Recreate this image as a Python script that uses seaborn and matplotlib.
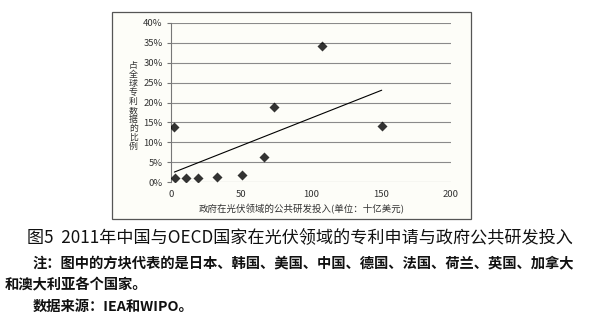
import matplotlib
matplotlib.use("Agg")
import matplotlib.pyplot as plt
import seaborn as sns
import pandas as pd
from matplotlib.patches import Rectangle

# Data: government public R&D investment in PV (billion USD) vs share of global patents (%)
investment = [2.4, 2.9, 10.5, 19.3, 33.0, 51.0, 66.7, 73.3, 107.9, 150.5]
patent_share = [13.8, 1.1, 1.1, 0.9, 1.3, 1.8, 6.3, 18.8, 34.3, 14.2]
x_ticks = [0, 50, 100, 150, 200]
y_ticks = [0, 5, 10, 15, 20, 25, 30, 35, 40]

x_label = "政府在光伏领域的公共研发投入(单位：十亿美元)"
y_label = "占全球专利数据的比例"
title = "图5  2011年中国与OECD国家在光伏领域的专利申请与政府公共研发投入"
note1 = "注：图中的方块代表的是日本、韩国、美国、中国、德国、法国、荷兰、英国、加拿大"
note2 = "和澳大利亚各个国家。"
source = "数据来源：IEA和WIPO。"

df = pd.DataFrame({"investment": investment, "share": patent_share})

sns.set_theme(style="white")
plt.rcParams["font.family"] = ["Noto Sans CJK SC", "DejaVu Sans"]

W, H = 600, 319
fig = plt.figure(figsize=(6.0, 3.19), dpi=100)
fig.patch.set_facecolor("white")

# chart frame
frame = Rectangle((112 / W, 1 - 219 / H), (471 - 112) / W, (219 - 12) / H,
                  transform=fig.transFigure, fill=True, facecolor="#fdfdf8",
                  edgecolor="#555555", linewidth=0.9, zorder=-5)
fig.patches.append(frame)

ax = fig.add_axes([171 / W, 1 - 182 / H, (451 - 171) / W, (182 - 23) / H], zorder=2)
ax.set_facecolor("none")

sns.regplot(data=df, x="investment", y="share", ax=ax, ci=None,
            marker="D", color="black",
            scatter_kws={"s": 26, "edgecolors": "black", "linewidths": 0, "zorder": 3},
            line_kws={"color": "black", "linewidth": 0.8, "zorder": 2})

ax.set_xlim(0, 200)
ax.set_ylim(0, 40)
ax.set_xticks(x_ticks)
ax.set_yticks(y_ticks)
ax.set_xticklabels([str(v) for v in x_ticks])
ax.set_yticklabels([f"{v}%" for v in y_ticks])
ax.yaxis.grid(True, color="#8a8a8a", linewidth=0.8)
ax.xaxis.grid(False)
ax.set_axisbelow(True)
for s in ["top", "right", "bottom"]:
    ax.spines[s].set_visible(False)
ax.spines["left"].set_color("#777777")
ax.spines["left"].set_linewidth(0.8)
ax.tick_params(axis="y", which="both", left=True, length=3, width=0.8, color="#777777",
               labelsize=6.8, labelcolor="#333333", pad=3)
ax.tick_params(axis="x", which="both", bottom=False, length=0, labelsize=6.8,
               labelcolor="#333333", pad=6)

ax.set_xlabel(x_label, fontsize=6.8, color="#333333")
ax.xaxis.set_label_coords(0.467, -0.14)
ax.set_ylabel("")
ax.text(-0.135, 0.478, "\n".join(y_label), transform=ax.transAxes, fontsize=6.4,
        color="#333333", ha="center", va="center", linespacing=1.0)

fig.text(300 / W, 1 - 238 / H, title, fontsize=12.3, ha="center", va="center", color="#111111")
fig.text(33 / W, 1 - 263 / H, note1, fontsize=10.3, ha="left", va="center",
         fontweight="bold", color="#111111")
fig.text(5 / W, 1 - 285 / H, note2, fontsize=10.3, ha="left", va="center",
         fontweight="bold", color="#111111")
fig.text(33 / W, 1 - 307 / H, source, fontsize=10.3, ha="left", va="center",
         fontweight="bold", color="#111111")

fig.savefig("out.png", dpi=100, facecolor="white")
